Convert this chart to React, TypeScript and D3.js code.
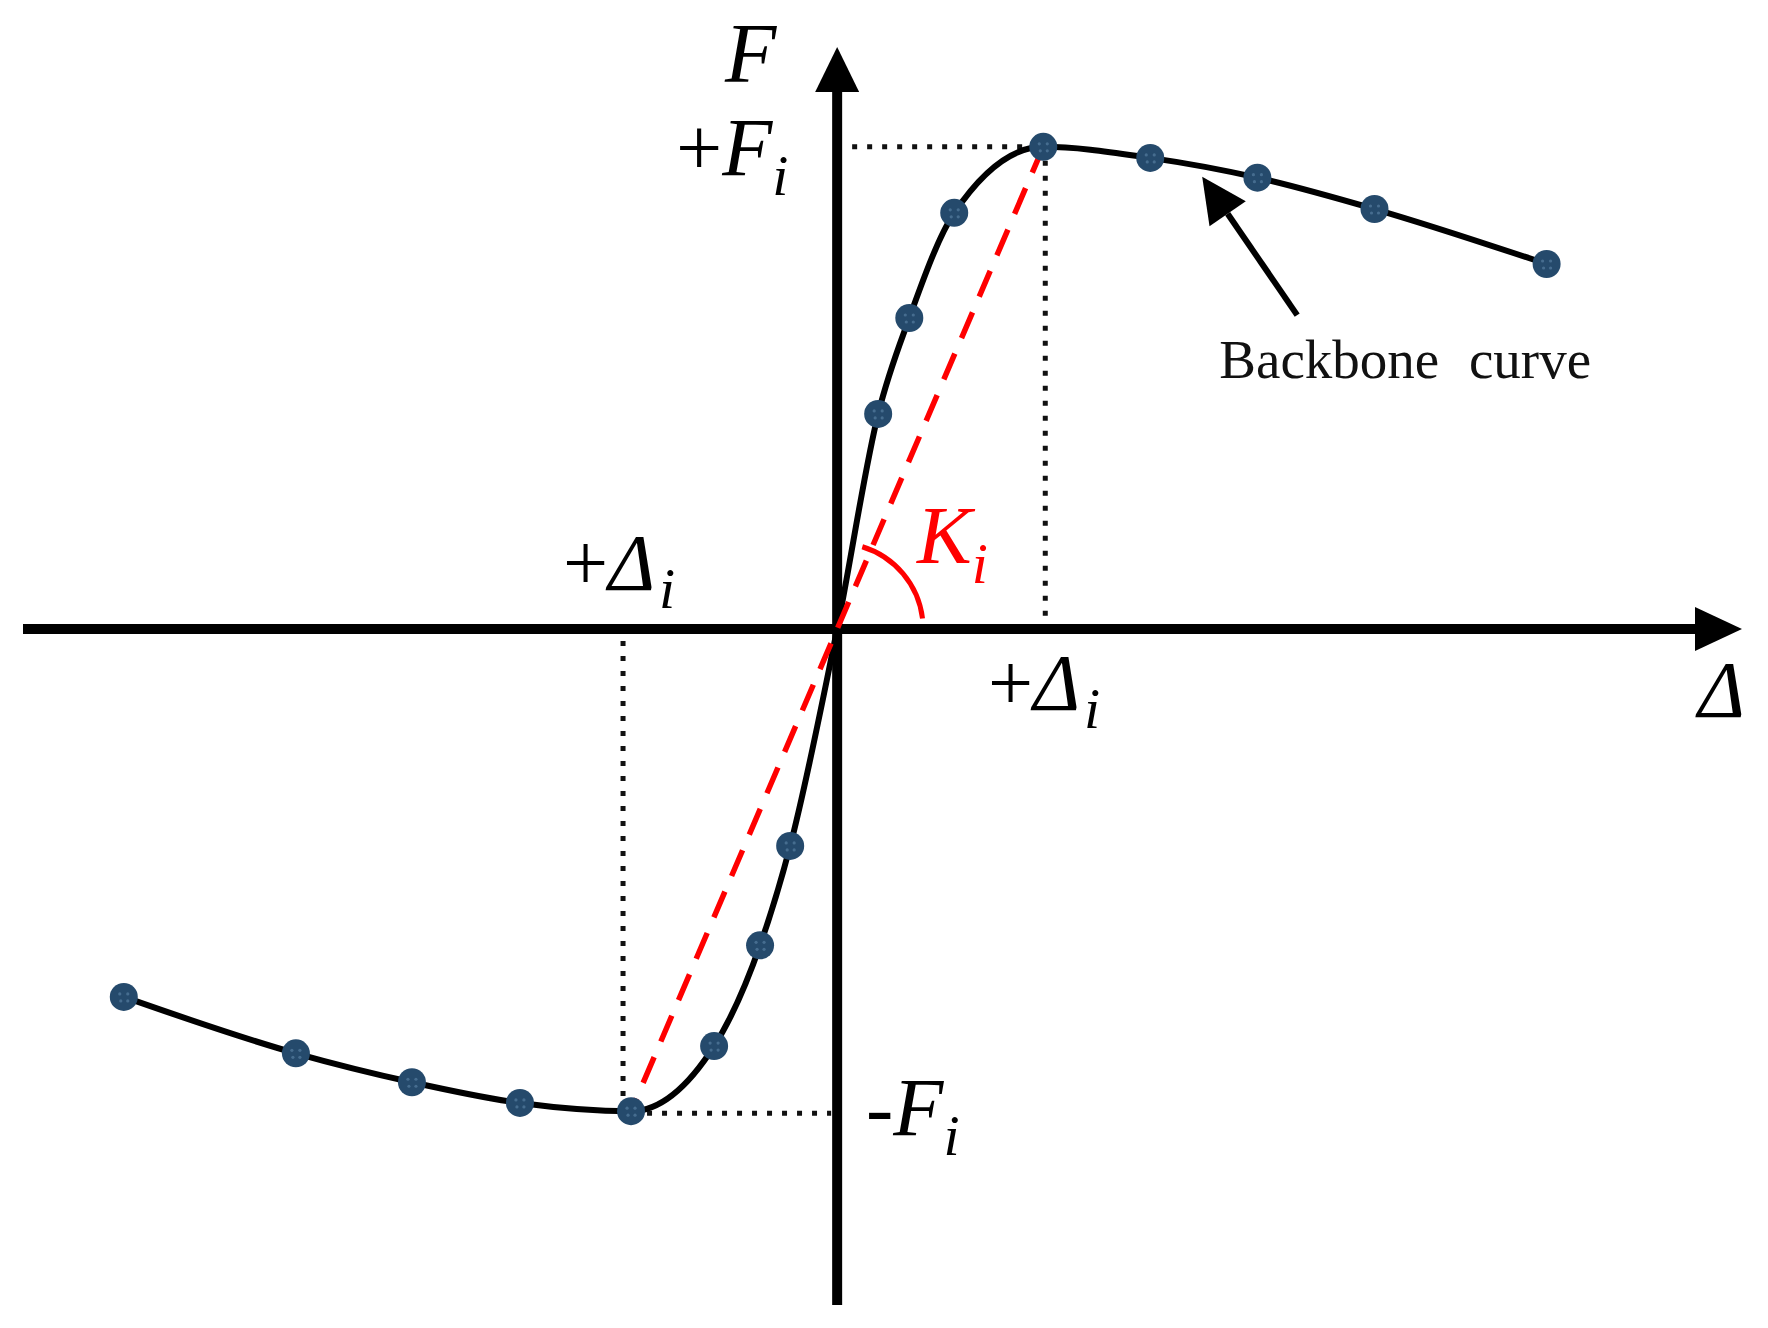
import React from 'react';
import * as d3 from 'd3';

// displacement / force, normalised so that +Δi = 1 and +Fi = 1
const dispNeg = [-3.461, -2.626, -2.063, -1.539, -1, -0.597, -0.374, -0.228];
const forceNeg = [-0.763, -0.88, -0.94, -0.983, -1, -0.865, -0.656, -0.45];
const dispPos = [0.199, 0.35, 0.568, 1, 1.519, 2.039, 2.607, 3.442];
const forcePos = [0.446, 0.645, 0.863, 1, 0.977, 0.936, 0.871, 0.757];

// extents of the drawn axes, in the same units
const xExtent = [-3.95, 4.39];
const yExtent = [-1.402, 1.207];

// peak point (+Δi, +Fi) and its mirror
const peakPos = { x: 1, y: 1 };
const peakNeg = { x: -1, y: -1 };

const W = 1768;
const H = 1328;
const mathFont = '"Liberation Serif", "Times New Roman", serif';

const App = () => {
  const x = d3.scaleLinear().domain(xExtent).range([23, 1742]);
  const y = d3.scaleLinear().domain(yExtent).range([1305, 47]);
  const x0 = x(0);
  const y0 = y(0);

  const markers = [
    ...dispNeg.map((d, i) => ({ x: d, y: forceNeg[i] })),
    ...dispPos.map((d, i) => ({ x: d, y: forcePos[i] })),
  ];
  const curvePts = [
    ...dispNeg.map((d, i) => ({ x: d, y: forceNeg[i] })),
    { x: 0, y: 0 },
    ...dispPos.map((d, i) => ({ x: d, y: forcePos[i] })),
  ];
  const line = d3
    .line<{ x: number; y: number }>()
    .x((d) => x(d.x))
    .y((d) => y(d.y))
    .curve(d3.curveMonotoneX);

  // angle arc for Ki
  const arc = d3.path();
  const r = 86;
  const a0 = (-73 * Math.PI) / 180;
  const a1 = (-7 * Math.PI) / 180;
  arc.moveTo(x0 + r * Math.cos(a0), y0 + r * Math.sin(a0));
  arc.arc(x0, y0, r, a0, a1, false);

  // annotation arrow pointing at the backbone curve
  const tip = [x(1.771), y(0.938)];
  const tail = [x(2.232), y(0.651)];
  const dx = tip[0] - tail[0];
  const dy = tip[1] - tail[1];
  const len = Math.hypot(dx, dy);
  const ux = dx / len;
  const uy = dy / len;
  const hl = 45;
  const hw = 22;
  const bx = tip[0] - ux * hl;
  const by = tip[1] - uy * hl;
  const head = `${tip[0]},${tip[1]} ${bx - uy * hw},${by + ux * hw} ${bx + uy * hw},${by - ux * hw}`;

  const dotted = { stroke: '#111', strokeWidth: 5, strokeDasharray: '5 10', fill: 'none' };

  return (
    <svg
      width={W}
      height={H}
      style={{ position: 'absolute', left: 0, top: 0, background: '#fff' }}
    >
      {/* dotted guides */}
      <line x1={x0 + 15} x2={x(peakPos.x)} y1={y(peakPos.y)} y2={y(peakPos.y)} {...dotted} />
      <line x1={x(peakPos.x) + 2} x2={x(peakPos.x) + 2} y1={y(peakPos.y) + 14} y2={y0 - 6} {...dotted} />
      <line x1={x(peakNeg.x) - 8} x2={x(peakNeg.x) - 8} y1={y0 + 12} y2={y(peakNeg.y) - 12} {...dotted} />
      <line x1={x(peakNeg.x) + 16} x2={x0 - 6} y1={y(peakNeg.y) + 2} y2={y(peakNeg.y) + 2} {...dotted} />

      {/* axes */}
      <line x1={x(xExtent[0])} x2={x(xExtent[1]) - 45} y1={y0} y2={y0} stroke="#000" strokeWidth={10} />
      <polygon
        points={`${x(xExtent[1])},${y0} ${x(xExtent[1]) - 47},${y0 - 22} ${x(xExtent[1]) - 47},${y0 + 22}`}
        fill="#000"
      />
      <line x1={x0} x2={x0} y1={y(yExtent[0])} y2={y(yExtent[1]) + 43} stroke="#000" strokeWidth={10} />
      <polygon
        points={`${x0},${y(yExtent[1])} ${x0 - 22},${y(yExtent[1]) + 45} ${x0 + 22},${y(yExtent[1]) + 45}`}
        fill="#000"
      />

      {/* backbone curve */}
      <path d={line(curvePts) || ''} fill="none" stroke="#000" strokeWidth={6} />

      {/* secant stiffness */}
      <line
        x1={x(peakPos.x)}
        y1={y(peakPos.y)}
        x2={x(peakNeg.x)}
        y2={y(peakNeg.y)}
        stroke="#ff0000"
        strokeWidth={5.5}
        strokeDasharray="28 17"
      />
      <path d={arc.toString()} fill="none" stroke="#ff0000" strokeWidth={5} />

      {/* markers */}
      {markers.map((m, i) => (
        <g key={i} transform={`translate(${x(m.x)},${y(m.y)})`}>
          <circle r={14} fill="#254a6c" />
          {[[-4, -3], [4, -3], [-3, 4], [4, 4]].map(([a, b], j) => (
            <circle key={j} cx={a} cy={b} r={1.6} fill="#4f7598" opacity={0.8} />
          ))}
        </g>
      ))}

      {/* annotation */}
      <line x1={tail[0]} y1={tail[1]} x2={bx} y2={by} stroke="#000" strokeWidth={6} />
      <polygon points={head} fill="#000" />
      <text
        x={x(1.854)}
        y={y(0.521)}
        fontFamily={mathFont}
        fontSize={55}
        wordSpacing={16}
        fill="#111"
      >
        Backbone curve
      </text>

      {/* labels */}
      <text x={725} y={82} fontFamily={mathFont} fontSize={84} fontStyle="italic">
        F
      </text>
      <text x={1698} y={717} fontFamily={mathFont} fontSize={80} fontStyle="italic">
        Δ
      </text>
      <text x={676} y={175} fontFamily={mathFont} fontSize={82}>
        <tspan>+</tspan>
        <tspan fontStyle="italic">F</tspan>
        <tspan fontStyle="italic" fontSize={58} dy={20}>i</tspan>
      </text>
      <text x={563} y={590} fontFamily={mathFont} fontSize={80}>
        <tspan>+</tspan>
        <tspan fontStyle="italic">Δ</tspan>
        <tspan fontStyle="italic" fontSize={58} dy={18} dx={4}>i</tspan>
      </text>
      <text x={988} y={710} fontFamily={mathFont} fontSize={80}>
        <tspan>+</tspan>
        <tspan fontStyle="italic">Δ</tspan>
        <tspan fontStyle="italic" fontSize={58} dy={18} dx={4}>i</tspan>
      </text>
      <text x={866} y={1135} fontFamily={mathFont} fontSize={82}>
        <tspan>-</tspan>
        <tspan fontStyle="italic">F</tspan>
        <tspan fontStyle="italic" fontSize={58} dy={20}>i</tspan>
      </text>
      <text x={917} y={563} fontFamily={mathFont} fontSize={82} fill="#ff0000">
        <tspan fontStyle="italic">K</tspan>
        <tspan fontStyle="italic" fontSize={58} dy={20}>i</tspan>
      </text>
    </svg>
  );
};

export default App;
